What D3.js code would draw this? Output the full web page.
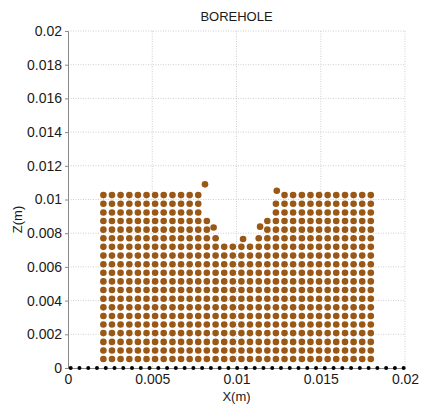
<!DOCTYPE html>
<html>
<head>
<meta charset="utf-8">
<script src="https://cdn.jsdelivr.net/npm/d3@7"></script>
<style>
  html, body { margin: 0; padding: 0; background: #fff; }
  svg text { font-family: "Liberation Sans", Arial, sans-serif; fill: #1a1a1a; }
</style>
</head>
<body>
<svg id="chart" width="422" height="405"></svg>
<script>
// Particle lattice: column x positions and row z positions (m)
const colX = [0.00210, 0.00261, 0.00312, 0.00364, 0.00415, 0.00466, 0.00517, 0.00568,
              0.00620, 0.00671, 0.00722, 0.00773, 0.00824, 0.00876, 0.00927, 0.00978,
              0.01029, 0.01080, 0.01132, 0.01183, 0.01234, 0.01285, 0.01336, 0.01388,
              0.01439, 0.01490, 0.01541, 0.01592, 0.01644, 0.01695, 0.01746, 0.01797];
const rowZ = [0.00053, 0.00104, 0.00155, 0.00207, 0.00258, 0.00309, 0.00360, 0.00411,
              0.00463, 0.00514, 0.00565, 0.00616, 0.00667, 0.00719, 0.00770, 0.00821,
              0.00872, 0.00923, 0.00975, 0.01026];
// Columns removed by the borehole, per row index
const holeRows = [14, 15, 16, 17, 18, 19];
const holeCols = [
  [14, 15, 16, 17],
  [13, 14, 15, 16, 17, 18],
  [13, 14, 15, 16, 17, 18],
  [12, 13, 14, 15, 16, 17, 18, 19],
  [12, 13, 14, 15, 16, 17, 18, 19],
  [12, 13, 14, 15, 16, 17, 18, 19, 20]
];
// Particles displaced from the lattice around the hole
const looseX = [0.00813, 0.01239, 0.00864, 0.01140, 0.01039];
const looseZ = [0.01090, 0.01052, 0.00834, 0.00839, 0.00766];
// Wall (boundary) particles along z = 0
const wallX = [0.00016, 0.00068, 0.00120, 0.00172, 0.00224, 0.00276, 0.00328, 0.00380,
               0.00432, 0.00484, 0.00536, 0.00588, 0.00640, 0.00692, 0.00744, 0.00796,
               0.00848, 0.00900, 0.00952, 0.01004, 0.01056, 0.01108, 0.01160, 0.01212,
               0.01264, 0.01316, 0.01368, 0.01420, 0.01472, 0.01524, 0.01576, 0.01628,
               0.01680, 0.01732, 0.01784, 0.01836, 0.01888, 0.01940, 0.01992];
// Axis ticks
const xTicks = [0, 0.005, 0.01, 0.015, 0.02];
const xTickLabels = ["0", "0.005", "0.01", "0.015", "0.02"];
const yTicks = [0, 0.002, 0.004, 0.006, 0.008, 0.01, 0.012, 0.014, 0.016, 0.018, 0.02];
const yTickLabels = ["0", "0.002", "0.004", "0.006", "0.008", "0.01", "0.012", "0.014", "0.016", "0.018", "0.02"];

const svg = d3.select("#chart");
const mLeft = 68, mTop = 31, plotW = 337, plotH = 337;
const x = d3.scaleLinear().domain([0, 0.02]).range([mLeft, mLeft + plotW]);
const y = d3.scaleLinear().domain([0, 0.02]).range([mTop + plotH, mTop]);

// Dotted grid
const grid = svg.append("g");
grid.selectAll("line.gx").data(xTicks.slice(1)).join("line")
  .attr("x1", d => x(d)).attr("x2", d => x(d))
  .attr("y1", mTop).attr("y2", mTop + plotH)
  .attr("stroke", "#cfcfcf").attr("stroke-width", 1).attr("stroke-dasharray", "1,1.5");
grid.selectAll("line.gy").data(yTicks.slice(1)).join("line")
  .attr("x1", mLeft).attr("x2", mLeft + plotW)
  .attr("y1", d => y(d)).attr("y2", d => y(d))
  .attr("stroke", "#cfcfcf").attr("stroke-width", 1).attr("stroke-dasharray", "1,1.5");

// Axes
const xAxis = d3.axisBottom(x).tickValues(xTicks)
  .tickFormat((d, i) => xTickLabels[i]).tickSize(0).tickPadding(6);
const gx = svg.append("g").attr("transform", `translate(0,${mTop + plotH})`).call(xAxis);
gx.select(".domain").attr("stroke", "#888");
gx.selectAll("text").attr("font-size", 14).attr("fill", "#1a1a1a")
  .style("font-family", "'Liberation Sans', Arial, sans-serif");

const yAxis = d3.axisLeft(y).tickValues(yTicks)
  .tickFormat((d, i) => yTickLabels[i]).tickSize(3).tickPadding(3);
const gy = svg.append("g").attr("transform", `translate(${mLeft},0)`).call(yAxis);
gy.select(".domain").attr("stroke", "#888");
gy.selectAll(".tick line").attr("stroke", "#888");
gy.selectAll("text").attr("font-size", 14).attr("fill", "#1a1a1a")
  .style("font-family", "'Liberation Sans', Arial, sans-serif");

// Fluid particles
const particles = [];
rowZ.forEach((z, j) => {
  const hi = holeRows.indexOf(j);
  const gaps = hi >= 0 ? holeCols[hi] : [];
  colX.forEach((cx, i) => {
    if (!gaps.includes(i)) particles.push([cx, z]);
  });
});
looseX.forEach((lx, k) => particles.push([lx, looseZ[k]]));

svg.append("g").selectAll("circle").data(particles).join("circle")
  .attr("cx", d => x(d[0])).attr("cy", d => y(d[1]))
  .attr("r", 3.3).attr("fill", "#9a5816");

// Wall particles
svg.append("g").selectAll("circle").data(wallX).join("circle")
  .attr("cx", d => x(d)).attr("cy", y(0))
  .attr("r", 2).attr("fill", "#000");

// Titles
svg.append("text").attr("x", mLeft + plotW / 2).attr("y", 21)
  .attr("text-anchor", "middle").attr("font-size", 13).text("BOREHOLE");
svg.append("text").attr("x", mLeft + plotW / 2).attr("y", 401)
  .attr("text-anchor", "middle").attr("font-size", 13).text("X(m)");
svg.append("text").attr("transform", `translate(22,${mTop + plotH / 2 + 20}) rotate(-90)`)
  .attr("text-anchor", "middle").attr("font-size", 13).text("Z(m)");
</script>
</body>
</html>
